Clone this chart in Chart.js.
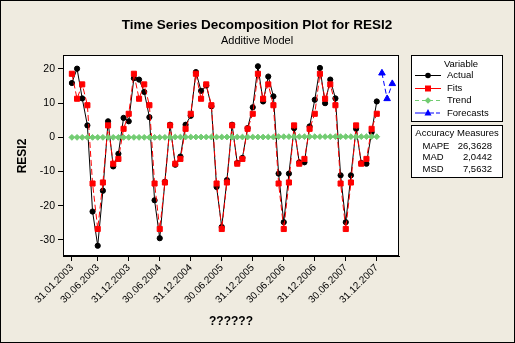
<!DOCTYPE html>
<html><head><meta charset="utf-8">
<script src="https://cdn.jsdelivr.net/npm/chart.js@4.4.0/dist/chart.umd.min.js"></script>
<style>html,body{margin:0;padding:0;background:#EFEBE0;}#wrap{width:515px;height:343px;}</style>
</head><body><div id="wrap"><canvas id="c" width="515" height="343"></canvas></div>
<script>
// ---- data ----
const tickIdx = [0, 5, 11, 17, 23, 29, 35, 41, 47, 53, 59];
const tickLabels = ['31.01.2003','30.06.2003','31.12.2003','30.06.2004','31.12.2004','30.06.2005','31.12.2005','30.06.2006','31.12.2006','30.06.2007','31.12.2007'];
const yTicks = [-30, -20, -10, 0, 10, 20];
const actual = [15.9, 20.1, 11.4, 3.5, -21.7, -31.7, -15.6, 4.7, -8.5, -4.8, 5.7, 4.7,
                17.3, 16.9, 13.3, 5.9, -18.4, -29.5, -13.0, 3.7, -8.0, -5.6, 3.7, 6.3,
                19.1, 13.6, 15.2, 9.1, -14.5, -26.2, -12.5, 3.7, -7.5, -6.0, 2.7, 8.8,
                20.8, 10.5, 17.8, 12.0, -10.6, -24.8, -10.6, 2.7, -7.3, -7.3, 3.2, 11.0,
                20.3, 10.0, 16.9, 11.4, -11.1, -24.8, -11.1, 2.5, -7.5, -7.7, 1.5, 10.5];
const fits = [18.6, 11.3, 15.5, 9.4, -13.5, -26.8, -13.2, 3.5, -7.7, -6.3, 2.5, 6.9,
              18.6, 11.3, 15.5, 9.4, -13.5, -26.8, -13.2, 3.5, -7.7, -6.3, 2.5, 6.9,
              18.6, 11.3, 15.5, 9.4, -13.5, -26.8, -13.2, 3.5, -7.7, -6.3, 2.5, 6.9,
              18.6, 11.3, 15.5, 9.4, -13.5, -26.8, -13.2, 3.5, -7.7, -6.3, 2.5, 6.9,
              18.6, 11.3, 15.5, 9.4, -13.5, -26.8, -13.2, 3.5, -7.7, -6.3, 2.5, 6.9];
const trend = [0.0, 0.0, 0.0, 0.0, 0.0, 0.0, 0.0, 0.0, 0.0, 0.0, 0.0, 0.0,
               0.0, 0.0, 0.0, 0.0, 0.0, 0.0, 0.0, 0.0, 0.1, 0.1, 0.1, 0.1,
               0.1, 0.1, 0.1, 0.1, 0.1, 0.1, 0.1, 0.1, 0.1, 0.1, 0.1, 0.1,
               0.1, 0.1, 0.1, 0.1, 0.2, 0.2, 0.2, 0.2, 0.2, 0.2, 0.2, 0.2,
               0.2, 0.2, 0.2, 0.2, 0.2, 0.2, 0.2, 0.2, 0.2, 0.2, 0.2, 0.2];
const forecastIdx = [60, 61, 62];
const forecasts = [18.8, 11.3, 15.7];
const legendNames = ['Actual', 'Fits', 'Trend', 'Forecasts'];
const accuracyNames = ['MAPE', 'MAD', 'MSD'];
const accuracyValues = ['26,3628', '2,0442', '7,5632'];

const FONT = '"Liberation Sans", Arial, sans-serif';
const BG = '#EFEBE0';
const COL = {act:'#000000', fit:'#FF0000', trend:'#72CC72', fc:'#0000FF'};

const decor = {
  id: 'decor',
  beforeDraw(chart) {
    const {ctx, chartArea: a} = chart;
    ctx.save();
    ctx.fillStyle = BG;
    ctx.fillRect(0, 0, chart.width, chart.height);
    ctx.fillStyle = '#FFFFFF';
    ctx.fillRect(a.left, a.top, a.right - a.left, a.bottom - a.top);
    ctx.restore();
  },
  afterDraw(chart) {
    const {ctx, chartArea: a} = chart;
    ctx.save();
    ctx.strokeStyle = '#000'; ctx.lineWidth = 1;
    ctx.strokeRect(Math.round(a.left) + 0.5, Math.round(a.top) - 0.5, Math.round(a.right - a.left) - 1, Math.round(a.bottom - a.top));
    // titles
    ctx.fillStyle = '#000';
    ctx.textAlign = 'center'; ctx.textBaseline = 'middle';
    ctx.font = 'bold 13.5px ' + FONT;
    ctx.fillText('Time Series Decomposition Plot for RESI2', 257, 25);
    ctx.font = '11px ' + FONT;
    ctx.fillText('Additive Model', 257, 41);
    // legend box
    ctx.fillStyle = '#fff';
    ctx.fillRect(411.5, 55.5, 91, 66);
    ctx.strokeRect(411.5, 55.5, 91, 66);
    ctx.fillStyle = '#000';
    ctx.font = '9.5px ' + FONT;
    ctx.textAlign = 'center';
    ctx.fillText('Variable', 461, 64);
    const rows = [75.5, 88.5, 100.5, 113];
    const styles = [
      {c: COL.act, dash: [], shape: 'circle'},
      {c: COL.fit, dash: [], shape: 'rect'},
      {c: COL.trend, dash: [4, 3], shape: 'diamond'},
      {c: COL.fc, dash: [], shape: 'tri'}
    ];
    legendNames.forEach((n, i) => {
      const y = rows[i], s = styles[i];
      ctx.strokeStyle = s.c; ctx.fillStyle = s.c; ctx.lineWidth = 1;
      ctx.setLineDash(s.dash);
      ctx.beginPath();
      if (s.shape === 'tri') {
        ctx.moveTo(415, y); ctx.lineTo(434, y);
        ctx.stroke();
        ctx.beginPath(); ctx.moveTo(436, y); ctx.lineTo(440, y); ctx.stroke();
      } else {
        ctx.moveTo(415, y); ctx.lineTo(441, y); ctx.stroke();
      }
      ctx.setLineDash([]);
      ctx.beginPath();
      const x = 428;
      if (s.shape === 'circle') { ctx.arc(x, y, 2.8, 0, Math.PI * 2); }
      else if (s.shape === 'rect') { ctx.rect(x - 3, y - 3, 6, 6); }
      else if (s.shape === 'diamond') { ctx.moveTo(x - 3.3, y); ctx.lineTo(x, y - 3.3); ctx.lineTo(x + 3.3, y); ctx.lineTo(x, y + 3.3); ctx.closePath(); }
      else { ctx.moveTo(x, y - 4); ctx.lineTo(x + 3.5, y + 2.5); ctx.lineTo(x - 3.5, y + 2.5); ctx.closePath(); }
      ctx.fill();
      ctx.fillStyle = '#000';
      ctx.textAlign = 'left';
      ctx.fillText(n, 447, y);
    });
    // accuracy box
    ctx.strokeStyle = '#000';
    ctx.fillStyle = '#fff';
    ctx.fillRect(411.5, 125.5, 91, 52);
    ctx.strokeRect(411.5, 125.5, 91, 52);
    ctx.fillStyle = '#000';
    ctx.textAlign = 'center';
    ctx.fillText('Accuracy Measures', 457, 133);
    const ay = [146, 157.5, 169];
    accuracyNames.forEach((n, i) => {
      ctx.textAlign = 'left';
      ctx.fillText(n, 422.5, ay[i]);
      ctx.textAlign = 'right';
      ctx.fillText(accuracyValues[i], 492, ay[i]);
    });
    // outer border
    ctx.strokeStyle = '#000';
    ctx.strokeRect(0.5, 0.5, 514, 342);
    ctx.restore();
  }
};

const pts = (arr, idx) => arr.map((v, i) => ({x: idx ? idx[i] : i, y: v}));

new Chart(document.getElementById('c'), {
  type: 'line',
  data: {
    datasets: [
      {label: 'Actual', data: pts(actual), borderColor: COL.act, backgroundColor: COL.act, borderWidth: 1,
       pointStyle: 'circle', pointRadius: 2.6, pointBorderWidth: 1, order: 3},
      {label: 'Fits', data: pts(fits), borderColor: COL.fit, backgroundColor: COL.fit, borderWidth: 1, borderDash: [6, 3],
       pointStyle: 'rect', pointRadius: 3.6, pointBorderWidth: 1, order: 2},
      {label: 'Trend', data: pts(trend), borderColor: COL.trend, backgroundColor: COL.trend, borderWidth: 1, borderDash: [4, 3],
       pointStyle: 'rectRot', pointRadius: 2.9, pointBorderWidth: 1, order: 1},
      {label: 'Forecasts', data: pts(forecasts, forecastIdx), borderColor: COL.fc, backgroundColor: COL.fc, borderWidth: 1, borderDash: [5, 3],
       pointStyle: 'triangle', pointRadius: 3.8, pointBorderWidth: 1, order: 0}
    ]
  },
  options: {
    responsive: false, animation: false, devicePixelRatio: 1, events: [],
    layout: {padding: {left: 0, top: 56, right: 116, bottom: 0}},
    plugins: {legend: {display: false}, tooltip: {enabled: false}, title: {display: false}},
    elements: {line: {tension: 0}},
    scales: {
      x: {
        type: 'linear', min: -1.72, max: 63.3,
        afterBuildTicks: s => { s.ticks = tickIdx.map(v => ({value: v})); },
        afterFit: s => { s.height = 87; },
        ticks: {autoSkip: false, minRotation: 45, maxRotation: 45, padding: 1, color: '#000',
                font: {size: 10, family: FONT}, callback: (v, i) => tickLabels[i]},
        grid: {drawOnChartArea: false, drawTicks: true, tickLength: 5, tickColor: '#000'},
        border: {color: '#000', width: 1},
        title: {display: true, text: '??????', color: '#000', font: {size: 12, weight: 'bold', family: FONT}, padding: {top: 0, bottom: 14}}
      },
      y: {
        min: -34.7, max: 23.8,
        afterBuildTicks: s => { s.ticks = yTicks.map(v => ({value: v})); },
        afterFit: s => { s.width = 63; },
        ticks: {padding: 3, color: '#000', font: {size: 10.5, family: FONT}},
        grid: {drawOnChartArea: false, drawTicks: true, tickLength: 5, tickColor: '#000'},
        border: {color: '#000', width: 1},
        title: {display: true, text: 'RESI2', color: '#000', font: {size: 12, weight: 'bold', family: FONT}, padding: {top: 15, bottom: 0}}
      }
    }
  },
  plugins: [decor]
});
</script>
</body></html>
